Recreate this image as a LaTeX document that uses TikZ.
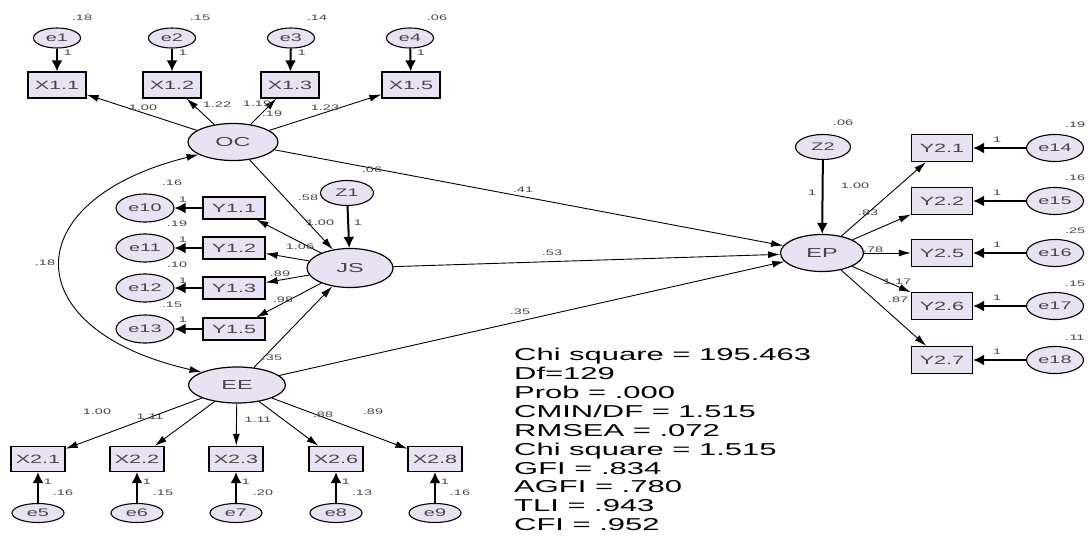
\documentclass[tikz,border=0pt]{standalone}
\usepackage{fontspec}
\newfontfamily\amosfont{Liberation Sans}[FakeStretch=1.8]
\usetikzlibrary{arrows.meta}
\usetikzlibrary{shapes.geometric}
\definecolor{cnode}{RGB}{233,226,243}
\definecolor{ctext}{RGB}{70,70,70}

\tikzset{
  latent/.style={ellipse, draw, line width=1.2pt, fill=cnode, minimum width=90pt, minimum height=37pt, inner sep=0pt, text=ctext, font=\amosfont\fontsize{13}{13}\selectfont},
  errvar/.style={ellipse, draw, line width=1.1pt, fill=cnode, inner sep=0pt, text=ctext, font=\amosfont\fontsize{11}{11}\selectfont},
  obs/.style={rectangle, draw, line width=1.2pt, fill=cnode, inner sep=0pt, text=ctext, font=\amosfont\fontsize{12}{12}\selectfont},
  lbl/.style={inner sep=0pt, text=ctext, font=\amosfont\fontsize{8}{8}\selectfont},
  reg/.style={-{Latex[length=12pt,width=7pt]}, line width=0.9pt},
  errarrow/.style={-{Latex[length=11pt,width=11pt]}, line width=2pt},
}

\begin{document}
\begin{tikzpicture}[x=1pt, y=-1pt]
  \useasboundingbox [fill=white] (0, 0) rectangle (1088, 536);

  % exogenous latent: OC
  \node [latent] (OC) at (233, 142) {OC};
  \node [errvar, minimum width=47pt, minimum height=20pt] (e1) at (57, 38) {e1};
  \node [errvar, minimum width=47pt, minimum height=20pt] (e2) at (172, 38) {e2};
  \node [errvar, minimum width=47pt, minimum height=20pt] (e3) at (291, 38) {e3};
  \node [errvar, minimum width=47pt, minimum height=20pt] (e4) at (410, 38) {e4};
  \node [obs, minimum width=58pt, minimum height=26pt] (X11) at (57, 85) {X1.1};
  \node [obs, minimum width=58pt, minimum height=26pt] (X12) at (172, 85) {X1.2};
  \node [obs, minimum width=58pt, minimum height=26pt] (X13) at (290, 85) {X1.3};
  \node [obs, minimum width=58pt, minimum height=26pt] (X15) at (411, 85) {X1.5};

  \draw [errarrow] (e1) -- (X11);
  \draw [errarrow] (e2) -- (X12);
  \draw [errarrow] (e3) -- (X13);
  \draw [errarrow] (e4) -- (X15);
  \draw [reg] (OC) -- (X11);
  \draw [reg] (OC) -- (X12);
  \draw [reg] (OC) -- (X13);
  \draw [reg] (OC) -- (X15);

  \node [lbl] (vE1) at (82, 18) {.18};
  \node [lbl] (vE2) at (200, 18) {.15};
  \node [lbl] (vE3) at (317, 18) {.14};
  \node [lbl] (vE4) at (437, 18) {.06};
  \node [lbl] (fE1) at (68, 53) {1};
  \node [lbl] (fE2) at (183, 53) {1};
  \node [lbl] (fE3) at (302, 53) {1};
  \node [lbl] (fE4) at (421, 53) {1};
  \node [lbl] (wX11) at (143, 108) {1.00};
  \node [lbl] (wX12) at (217, 105) {1.22};
  \node [lbl] (wX13) at (257, 104) {1.19};
  \node [lbl] (cX13) at (272, 114) {.19};
  \node [lbl] (wX15) at (325, 108) {1.23};

  % mediator: JS
  \node [latent, minimum width=86pt, minimum height=39pt] (JS) at (350, 268) {JS};
  \node [errvar, minimum width=53pt, minimum height=25pt] (Z1) at (347, 193) {Z1};
  \node [obs, minimum width=62pt, minimum height=22pt] (Y11) at (234, 208) {Y1.1};
  \node [obs, minimum width=62pt, minimum height=22pt] (Y12) at (234, 248) {Y1.2};
  \node [obs, minimum width=62pt, minimum height=22pt] (Y13) at (234, 288) {Y1.3};
  \node [obs, minimum width=62pt, minimum height=22pt] (Y15) at (234, 329) {Y1.5};
  \node [errvar, minimum width=58pt, minimum height=28pt] (e10) at (145, 208) {e10};
  \node [errvar, minimum width=58pt, minimum height=28pt] (e11) at (145, 248) {e11};
  \node [errvar, minimum width=58pt, minimum height=28pt] (e12) at (145, 288) {e12};
  \node [errvar, minimum width=58pt, minimum height=28pt] (e13) at (145, 329) {e13};

  \draw [errarrow] (Z1) -- (JS);
  \draw [errarrow] (Y11) -- (e10);
  \draw [errarrow] (Y12) -- (e11);
  \draw [errarrow] (Y13) -- (e12);
  \draw [errarrow] (Y15) -- (e13);
  \draw [reg] (JS) -- (Y11);
  \draw [reg] (JS) -- (Y12);
  \draw [reg] (JS) -- (Y13);
  \draw [reg] (JS) -- (Y15);

  \node [lbl] (vZ1) at (308, 198) {.58};
  \node [lbl] (fZ1) at (358, 223) {1};
  \node [lbl] (vE10) at (172, 183) {.16};
  \node [lbl] (vE11) at (177, 224) {.19};
  \node [lbl] (vE12) at (177, 265) {.10};
  \node [lbl] (vE13) at (172, 305) {.15};
  \node [lbl] (fE10) at (183, 200) {1};
  \node [lbl] (fE11) at (183, 240) {1};
  \node [lbl] (fE12) at (183, 281) {1};
  \node [lbl] (fE13) at (183, 320) {1};
  \node [lbl] (wY11) at (320, 223) {1.00};
  \node [lbl] (wY12) at (300, 247) {1.06};
  \node [lbl] (wY13) at (280, 274) {.89};
  \node [lbl] (wY15) at (283, 300) {.98};

  % exogenous latent: EE
  \node [latent, minimum width=97pt, minimum height=36pt] (EE) at (237, 385) {EE};
  \node [obs, minimum width=54pt, minimum height=25pt] (X21) at (38, 459) {X2.1};
  \node [obs, minimum width=54pt, minimum height=25pt] (X22) at (137, 459) {X2.2};
  \node [obs, minimum width=54pt, minimum height=25pt] (X23) at (236, 459) {X2.3};
  \node [obs, minimum width=54pt, minimum height=25pt] (X26) at (336, 459) {X2.6};
  \node [obs, minimum width=54pt, minimum height=25pt] (X28) at (435, 459) {X2.8};
  \node [errvar, minimum width=52pt, minimum height=19pt] (e5) at (38, 513) {e5};
  \node [errvar, minimum width=52pt, minimum height=19pt] (e6) at (137, 513) {e6};
  \node [errvar, minimum width=52pt, minimum height=19pt] (e7) at (236, 513) {e7};
  \node [errvar, minimum width=52pt, minimum height=19pt] (e8) at (336, 513) {e8};
  \node [errvar, minimum width=52pt, minimum height=19pt] (e9) at (435, 513) {e9};

  \draw [errarrow] (e5) -- (X21);
  \draw [errarrow] (e6) -- (X22);
  \draw [errarrow] (e7) -- (X23);
  \draw [errarrow] (e8) -- (X26);
  \draw [errarrow] (e9) -- (X28);
  \draw [reg] (EE) -- (X21);
  \draw [reg] (EE) -- (X22);
  \draw [reg] (EE) -- (X23);
  \draw [reg] (EE) -- (X26);
  \draw [reg] (EE) -- (X28);

  \node [lbl] (wX21) at (97, 412) {1.00};
  \node [lbl] (wX22) at (150, 417) {1.11};
  \node [lbl] (wX23) at (258, 420) {1.11};
  \node [lbl] (wX26) at (323, 415) {.88};
  \node [lbl] (wX28) at (373, 412) {.89};
  \node [lbl] (fE5) at (48, 482) {1};
  \node [lbl] (fE6) at (147, 482) {1};
  \node [lbl] (fE7) at (246, 482) {1};
  \node [lbl] (fE8) at (346, 482) {1};
  \node [lbl] (fE9) at (445, 482) {1};
  \node [lbl] (vE5) at (63, 493) {.16};
  \node [lbl] (vE6) at (163, 493) {.15};
  \node [lbl] (vE7) at (263, 493) {.20};
  \node [lbl] (vE8) at (362, 493) {.13};
  \node [lbl] (vE9) at (460, 493) {.16};

  % outcome: EP
  \node [latent, minimum width=83pt, minimum height=37pt] (EP) at (822, 253) {EP};
  \node [errvar, minimum width=55pt, minimum height=25pt] (Z2) at (823, 147) {Z2};
  \node [obs, minimum width=61pt, minimum height=27pt] (Y21) at (942, 148) {Y2.1};
  \node [obs, minimum width=61pt, minimum height=27pt] (Y22) at (942, 201) {Y2.2};
  \node [obs, minimum width=61pt, minimum height=27pt] (Y25) at (942, 253) {Y2.5};
  \node [obs, minimum width=61pt, minimum height=27pt] (Y26) at (942, 306) {Y2.6};
  \node [obs, minimum width=61pt, minimum height=27pt] (Y27) at (942, 360) {Y2.7};
  \node [errvar, minimum width=57pt, minimum height=27pt] (e14) at (1055, 148) {e14};
  \node [errvar, minimum width=57pt, minimum height=27pt] (e15) at (1055, 201) {e15};
  \node [errvar, minimum width=57pt, minimum height=27pt] (e16) at (1055, 253) {e16};
  \node [errvar, minimum width=57pt, minimum height=27pt] (e17) at (1055, 306) {e17};
  \node [errvar, minimum width=57pt, minimum height=27pt] (e18) at (1055, 360) {e18};

  \draw [errarrow] (Z2) -- (EP);
  \draw [errarrow] (e14) -- (Y21);
  \draw [errarrow] (e15) -- (Y22);
  \draw [errarrow] (e16) -- (Y25);
  \draw [errarrow] (e17) -- (Y26);
  \draw [errarrow] (e18) -- (Y27);
  \draw [reg] (EP) -- (Y21);
  \draw [reg] (EP) -- (Y22);
  \draw [reg] (EP) -- (Y25);
  \draw [reg] (EP) -- (Y26);
  \draw [reg] (EP) -- (Y27);

  \node [lbl] (vZ2) at (843, 123) {.06};
  \node [lbl] (fZ2) at (812, 193) {1};
  \node [lbl] (wY21) at (855, 186) {1.00};
  \node [lbl] (wY22) at (868, 213) {.83};
  \node [lbl] (wY25) at (873, 250) {.78};
  \node [lbl] (wY26) at (897, 282) {1.17};
  \node [lbl] (wY27) at (898, 300) {.87};
  \node [lbl] (fE14) at (997, 140) {1};
  \node [lbl] (fE15) at (997, 193) {1};
  \node [lbl] (fE16) at (997, 245) {1};
  \node [lbl] (fE17) at (997, 298) {1};
  \node [lbl] (fE18) at (997, 352) {1};
  \node [lbl] (vE14) at (1075, 125) {.19};
  \node [lbl] (vE15) at (1075, 178) {.16};
  \node [lbl] (vE16) at (1075, 231) {.25};
  \node [lbl] (vE17) at (1075, 284) {.15};
  \node [lbl] (vE18) at (1075, 338) {.11};

  % structural paths
  \draw [reg] (OC) -- (JS);
  \draw [reg] (EE) -- (JS);
  \draw [reg] (OC) -- (EP);
  \draw [reg] (JS) -- (EP);
  \draw [reg] (EE) -- (EP);
  \draw [reg, {Latex[length=12pt,width=7pt]}-{Latex[length=12pt,width=7pt]}]
    (OC.200) .. controls (15, 200) and (15, 330) .. (EE.160);

  \node [lbl] (cOCEE) at (45, 263) {.18};
  \node [lbl] (wOCJS) at (372, 170) {.06};
  \node [lbl] (wOCEP) at (523, 190) {.41};
  \node [lbl] (wJSEP) at (552, 253) {.53};
  \node [lbl] (wEEEP) at (520, 312) {.35};
  \node [lbl] (wEEJS) at (272, 358) {.35};

  % fit indices
  \node [anchor=north west, align=left, inner sep=0pt, font=\amosfont\fontsize{17.2}{18.9}\selectfont] (fit) at (514, 348) {%
    Chi square = 195.463\\
    Df=129\\
    Prob = .000\\
    CMIN/DF = 1.515\\
    RMSEA = .072\\
    Chi square = 1.515\\
    GFI = .834\\
    AGFI = .780\\
    TLI = .943\\
    CFI = .952};
\end{tikzpicture}
\end{document}
